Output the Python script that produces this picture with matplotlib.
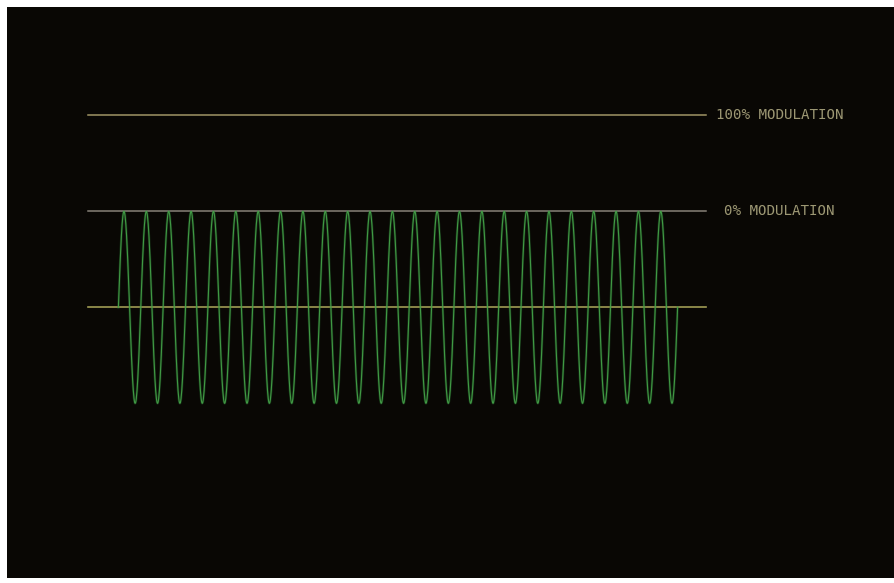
import numpy as np
import matplotlib.pyplot as plt

# Unmodulated carrier as seen on the scope, with the modulation reference levels
carrier_cycles = 25
carrier_amplitude = 1.0
level_names = ["100% MODULATION", "0% MODULATION"]
level_values = [2.0, 1.0]
baseline = 0.0

# Horizontal extent of the reference lines, in carrier cycles
line_start = -1.36
line_end = 26.27

t = np.linspace(0, carrier_cycles, carrier_cycles * 60 + 1)
wave = carrier_amplitude * np.sin(2 * np.pi * t)

fig = plt.figure(figsize=(8.95, 5.83), dpi=100, facecolor="white")
ax = fig.add_axes([7 / 895, 5 / 583, 888 / 895, 571 / 583])
ax.set_facecolor("#090704")
ax.set_xlim(-4.98, 34.72)
ax.set_ylim(-2.82, 3.13)
ax.set_xticks([])
ax.set_yticks([])
for sp in ax.spines.values():
    sp.set_visible(False)

level_colors = ["#b0a470", "#948e84"]
for name, val, col in zip(level_names, level_values, level_colors):
    ax.plot([line_start, line_end], [val, val], color=col, lw=1.1, alpha=0.9)
    ax.text(line_end + 0.45 + (0.35 if val < 2 else 0), val, name,
            color="#c2bc90", fontsize=10.2, family="DejaVu Sans Mono",
            va="center", ha="left", alpha=0.8)

ax.plot([line_start, line_end], [baseline, baseline], color="#b0ac5c", lw=1.2, alpha=0.9)

# the trace itself: soft glow under a thin bright line
ax.plot(t, wave, color="#2a7a34", lw=1.8, alpha=0.35)
ax.plot(t, wave, color="#46a64a", lw=0.8, alpha=0.9)

fig.savefig("out.png", dpi=100, facecolor=fig.get_facecolor())
plt.close(fig)
